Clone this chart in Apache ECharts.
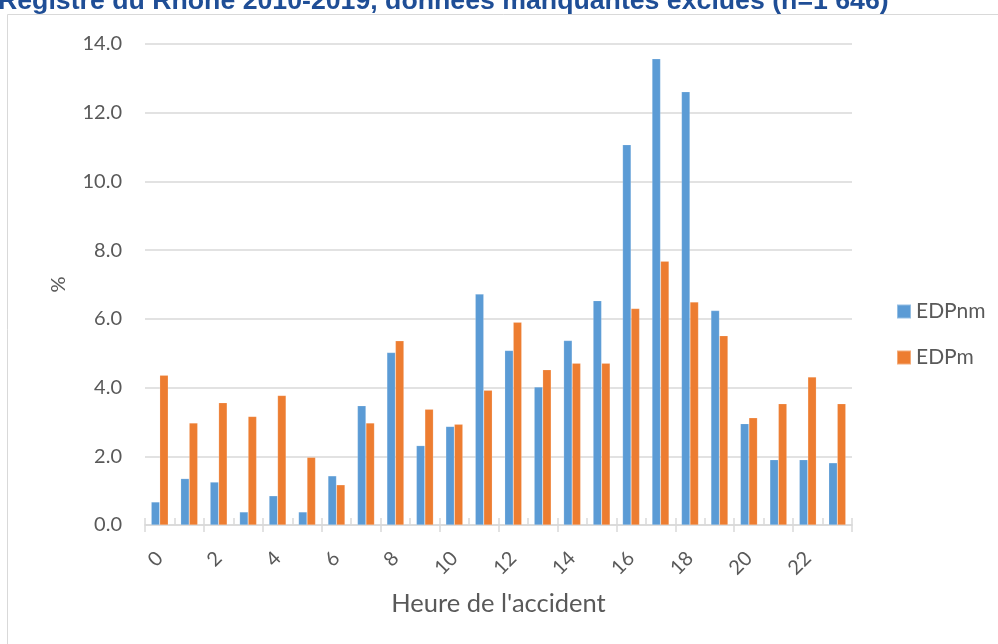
<!DOCTYPE html>
<html><head><meta charset="utf-8">
<script src="https://cdn.jsdelivr.net/npm/echarts@6/dist/echarts.min.js"></script>
<style>html,body{margin:0;padding:0;background:#fff}#c{width:998px;height:644px}</style>
</head><body><div id="c"></div>
<script>
const titleText = "Registre du Rhône 2010-2019, données manquantes exclues (n=1 646)";
const hours = ["0","1","2","3","4","5","6","7","8","9","10","11","12","13","14","15","16","17","18","19","20","21","22","23"];
const seriesNames = ["EDPnm","EDPm"];
const edpnm = [0.67,1.35,1.25,0.38,0.85,0.38,1.43,3.47,5.02,2.31,2.87,6.72,5.08,4.02,5.37,6.53,11.07,13.57,12.61,6.24,2.95,1.90,1.90,1.81];
const edpm  = [4.36,2.97,3.56,3.16,3.77,1.97,1.17,2.97,5.36,3.37,2.93,3.92,5.90,4.52,4.71,4.71,6.30,7.68,6.49,5.51,3.12,3.53,4.31,3.53];
const yAxisName = "%";
const xAxisName = "Heure de l'accident";

const chart = echarts.init(document.getElementById('c'), null, {renderer:'canvas'});
const txt = '#595959';
chart.setOption({
  animation:false,
  textStyle:{fontFamily:'Lato'},
  color:['#5B9BD5','#ED7D31'],
  graphic:[
    {type:'rect', shape:{x:7.5,y:14.5,width:1100,height:800}, style:{fill:'none',stroke:'#d9d9d9',lineWidth:1}, z:-10},
    {type:'text', style:{text:titleText, x:-2, y:15, verticalAlign:'bottom', font:'bold 26.7px "Liberation Sans"', fill:'#1f4e96'}}
  ],
  legend:{
    orient:'vertical', left:891, top:296,
    itemWidth:14, itemHeight:14, itemGap:25,
    icon:'rect',
    textStyle:{fontSize:21, color:txt, fontFamily:'Lato'},
    data:seriesNames
  },
  grid:{left:145, right:146, top:44, bottom:119, containLabel:false},
  xAxis:[{
    type:'category', data:hours,
    name:xAxisName, nameLocation:'middle', nameGap:66,
    nameTextStyle:{fontSize:25.5, color:txt, fontFamily:'Lato'},
    axisLine:{lineStyle:{color:'#d9d9d9', width:1.5}},
    axisTick:{show:true, alignWithLabel:false, length:7, lineStyle:{color:'#d9d9d9', width:1.5}},
    axisLabel:{interval:1, rotate:45, fontSize:20, color:txt, margin:30, fontFamily:'Lato'}
  },{
    type:'category', data:hours, position:'bottom',
    axisLine:{show:false},
    axisTick:{show:true, inside:true, alignWithLabel:false, length:7, lineStyle:{color:'#d9d9d9', width:1.5}},
    axisLabel:{show:false}, splitLine:{show:false}
  }],
  yAxis:{
    type:'value', min:0, max:14, interval:2,
    name:yAxisName, nameLocation:'middle', nameGap:76, nameRotate:90,
    nameTextStyle:{fontSize:20, color:txt, fontFamily:'Lato'},
    axisLine:{show:false}, axisTick:{show:false},
    splitLine:{lineStyle:{color:'#d9d9d9', width:1.5}},
    axisLabel:{formatter:v=>v.toFixed(1), fontSize:20, color:txt, margin:23, fontFamily:'Lato'}
  },
  series:[
    {name:seriesNames[0], type:'bar', xAxisIndex:0, data:edpnm, barWidth:8.5, barGap:'0%', z:3, itemStyle:{borderColor:'rgba(255,255,255,0.35)', borderWidth:0.5}},
    {name:seriesNames[1], type:'bar', xAxisIndex:0, data:edpm, barWidth:8.5, barGap:'0%', z:3, itemStyle:{borderColor:'rgba(255,255,255,0.35)', borderWidth:0.5}}
  ]
});
</script></body></html>
